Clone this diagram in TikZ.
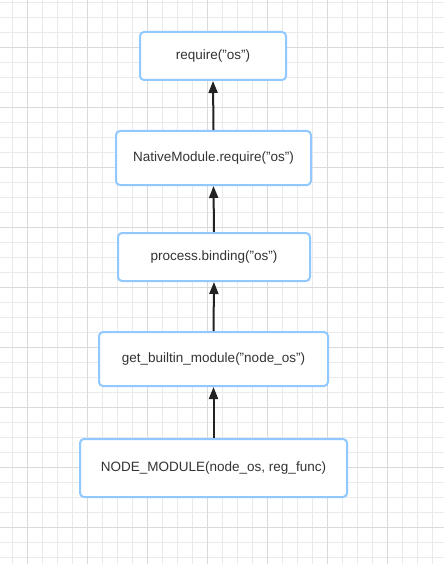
\documentclass[tikz,border=0pt]{standalone}
\usepackage{fontspec}
\setmainfont{Liberation Sans}
\usetikzlibrary{arrows.meta}
\definecolor{boxblue}{RGB}{145,200,255}
\definecolor{gridminor}{RGB}{234,234,234}
\definecolor{gridmajor}{RGB}{218,218,218}
\definecolor{textgray}{RGB}{51,51,51}
\definecolor{arrowgray}{RGB}{34,34,34}

\begin{document}
\begin{tikzpicture}[
        x=1pt, y=-1pt,
        callbox/.style={draw=boxblue, line width=2pt, rounded corners=4pt,
            fill=white, text=textgray, inner sep=0pt,
            font=\fontsize{13.5}{16}\selectfont},
        uparrow/.style={draw=arrowgray, line width=2pt,
            -{Triangle[length=12pt,width=9pt]}}
    ]
    \useasboundingbox (0,0) rectangle (444,564);
    \fill[white] (0,0) rectangle (444,564);
    % background grid
    \foreach \x in {12.7,27.7,...,444} {
        \draw[gridminor, line width=1pt] (\x,0) -- (\x,564);
    }
    \foreach \y in {2.3,17.3,...,564} {
        \draw[gridminor, line width=1pt] (0,\y) -- (444,\y);
    }
    \foreach \x in {27.7,87.7,...,444} {
        \draw[gridmajor, line width=1pt] (\x,0) -- (\x,564);
    }
    \foreach \y in {47.3,107.3,...,564} {
        \draw[gridmajor, line width=1pt] (0,\y) -- (444,\y);
    }

    \node[callbox, minimum width=146pt, minimum height=48pt] (require)
        at (213,56) {require("os")};
    \node[callbox, minimum width=195pt, minimum height=54pt] (native)
        at (213.5,158) {NativeModule.require("os")};
    \node[callbox, minimum width=192pt, minimum height=48pt] (binding)
        at (214,257) {process.binding("os")};
    \node[callbox, minimum width=229pt, minimum height=54pt] (builtin)
        at (213.5,359) {get\_builtin\_module("node\_os")};
    \node[callbox, minimum width=267pt, minimum height=58pt] (nodemodule)
        at (213.5,468) {NODE\_MODULE(node\_os, reg\_func)};

    \draw[uparrow] (native.north) -- (require.south);
    \draw[uparrow] (binding.north) -- (native.south);
    \draw[uparrow] (builtin.north) -- (binding.south);
    \draw[uparrow] (nodemodule.north) -- (builtin.south);
\end{tikzpicture}
\end{document}
